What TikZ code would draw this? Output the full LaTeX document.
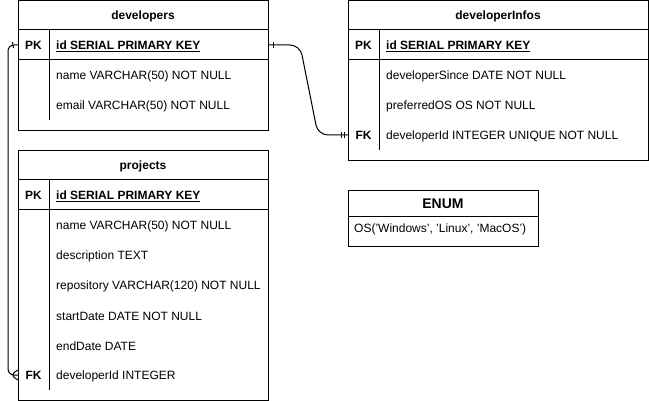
\documentclass[tikz,border=0pt]{standalone}
\usepackage{fontspec}
\setmainfont{Liberation Sans}
\usetikzlibrary{calc}
\usetikzlibrary{decorations.markings}
\tikzset{
	tablestyle/.style={rectangle,draw=black,line width=1pt,anchor=north west,inner sep=0pt},
	titlestyle/.style={font=\bfseries,text height=10pt,text depth=0pt,inner sep=0pt},
	keystyle/.style={font=\bfseries,text height=10pt,text depth=0pt,inner sep=0pt},
	fieldstyle/.style={anchor=west,text height=10pt,text depth=0pt,inner sep=0pt},
	linkstyle/.style={draw=black,line width=1pt,rounded corners=#1},
	onemark/.style={postaction={decorate,decoration={markings,
		mark=at position #1 with {\draw[line width=1pt] (0,-3pt)--(0,3pt);}}}},
	manymark/.style={postaction={decorate,decoration={markings,
		mark=at position -0.5pt with {\draw[line width=1pt] (0.5pt,5pt)--(-7.5pt,0)--(0.5pt,-5pt);}}}}
}

\begin{document}
\begin{tikzpicture}[x=1pt,y=-1pt]
		\fontsize{12pt}{14pt}\selectfont
		\useasboundingbox (0,0) rectangle (649,401);
		% developers
		\node[tablestyle,minimum width=250pt,minimum height=130pt] (developers) at (18,0) {};
		\node[titlestyle] (devtitle) at (143,15) {developers};
		\draw[line width=1pt] (18,30) -- (268,30);
		\draw[line width=1pt] (18,60) -- (268,60);
		\draw[line width=1pt] (49,30) -- (49,120);
		\node[keystyle] (devpkkey) at (33.5,45) {PK};
		\node[fieldstyle,font=\bfseries] (devpk) at (56,45) {\underline{id SERIAL PRIMARY KEY}};
		\node[fieldstyle] (devname) at (56,75) {name VARCHAR(50) NOT NULL};
		\node[fieldstyle] (devemail) at (56,105) {email VARCHAR(50) NOT NULL};
		% projects
		\node[tablestyle,minimum width=250pt,minimum height=250pt] (projects) at (18,150) {};
		\node[titlestyle] (projtitle) at (143,165) {projects};
		\draw[line width=1pt] (18,180) -- (268,180);
		\draw[line width=1pt] (18,210) -- (268,210);
		\draw[line width=1pt] (49,180) -- (49,390);
		\node[keystyle] (projpkkey) at (33.5,195) {PK};
		\node[fieldstyle,font=\bfseries] (projpk) at (56,195) {\underline{id SERIAL PRIMARY KEY}};
		\node[fieldstyle] (projname) at (56,225) {name VARCHAR(50) NOT NULL};
		\node[fieldstyle] (projdesc) at (56,255) {description TEXT};
		\node[fieldstyle] (projrepo) at (56,285) {repository VARCHAR(120) NOT NULL};
		\node[fieldstyle] (projstart) at (56,315) {startDate DATE NOT NULL};
		\node[fieldstyle] (projend) at (56,345) {endDate DATE};
		\node[keystyle] (projfkkey) at (33.5,375) {FK};
		\node[fieldstyle] (projfk) at (56,375) {developerId INTEGER};
		% developerInfos
		\node[tablestyle,minimum width=300pt,minimum height=160pt] (infos) at (348,0) {};
		\node[titlestyle] (infotitle) at (498,15) {developerInfos};
		\draw[line width=1pt] (348,30) -- (648,30);
		\draw[line width=1pt] (348,60) -- (648,60);
		\draw[line width=1pt] (379,30) -- (379,150);
		\node[keystyle] (infopkkey) at (363.5,45) {PK};
		\node[fieldstyle,font=\bfseries] (infopk) at (386,45) {\underline{id SERIAL PRIMARY KEY}};
		\node[fieldstyle] (infosince) at (386,75) {developerSince DATE NOT NULL};
		\node[fieldstyle] (infoos) at (386,105) {preferredOS OS NOT NULL};
		\node[keystyle] (infofkkey) at (363.5,135) {FK};
		\node[fieldstyle] (infofk) at (386,135) {developerId INTEGER UNIQUE NOT NULL};
		% enum
		\node[tablestyle,minimum width=190pt,minimum height=56pt] (osenum) at (348,190) {};
		\node[titlestyle,font=\bfseries\fontsize{14pt}{16pt}\selectfont,text height=11pt] (enumtitle) at (443,203.5) {ENUM};
		\draw[line width=1pt] (348,217) -- (538,217);
		\node[fieldstyle] (enumvalues) at (354,228) {OS('Windows', 'Linux', 'MacOS')};
		% relations
		\draw[linkstyle=10pt,onemark=4pt,onemark=-4pt,onemark=-7pt] (devpk -| developers.east) -- ++(31,0)
			-- ($(infofk -| infos.west)+(-30,0)$) -- (infofk -| infos.west);
		\draw[linkstyle=6pt,onemark=5pt,manymark] (devpk -| developers.west) -- ++(-10,0) |- (projfk -| projects.west);
\end{tikzpicture}
\end{document}
